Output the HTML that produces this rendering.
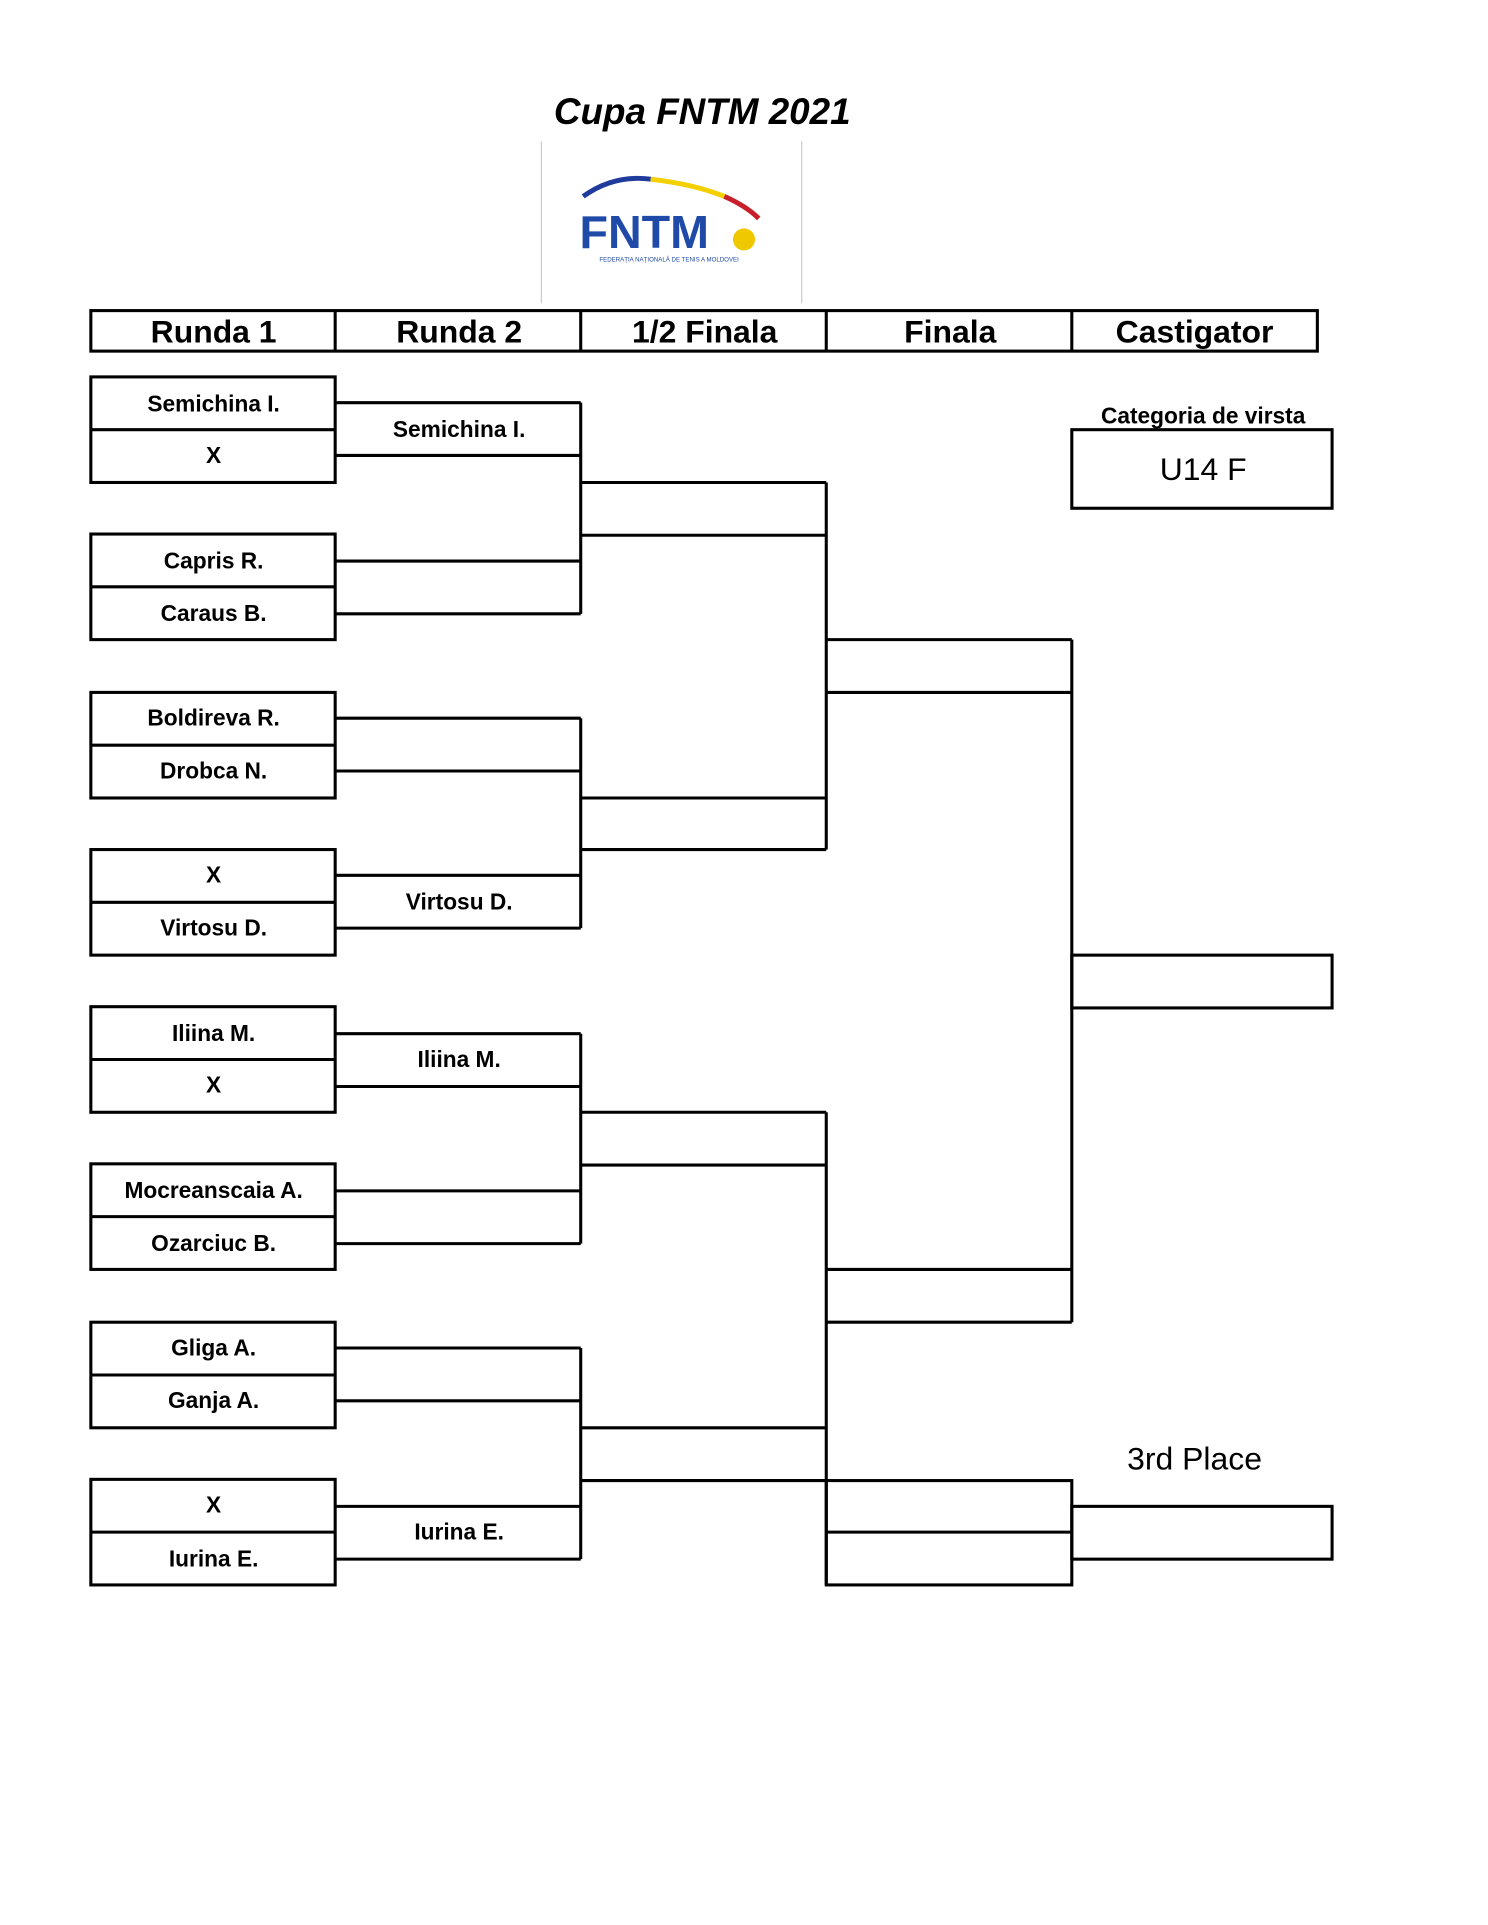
<!DOCTYPE html>
<html><head><meta charset="utf-8"><style>html,body{margin:0;padding:0;background:#fff}svg{display:block}</style></head>
<body>
<svg width="1488" height="1925" viewBox="0 0 1212 1568" preserveAspectRatio="none" xmlns="http://www.w3.org/2000/svg" font-family="Liberation Sans, Arial, sans-serif">
<rect width="1212" height="1568" fill="#fff"/>
<text x="572" y="101" font-size="30" font-weight="bold" font-style="italic" text-anchor="middle">Cupa FNTM 2021</text>
<line x1="441" y1="115" x2="441" y2="247" stroke="#ccc" stroke-width="1"/>
<line x1="653" y1="115" x2="653" y2="247" stroke="#ccc" stroke-width="1"/>
<path d="M475 160 Q500 142 530 146" stroke="#1f3c9c" stroke-width="4" fill="none"/>
<path d="M530 146 Q565 150 590 160" stroke="#f5d000" stroke-width="4" fill="none"/>
<path d="M590 160 Q608 168 618 178" stroke="#c8202a" stroke-width="4" fill="none"/>
<text x="472" y="202" font-size="38" font-weight="bold" fill="#1f4aa8">FNTM</text>
<circle cx="606" cy="195" r="9" fill="#f0c800"/>
<text x="545" y="213" font-size="5" fill="#1f4aa8" text-anchor="middle">FEDERAȚIA NAȚIONALĂ DE TENIS A MOLDOVEI</text>
<g fill="none" stroke="#000" stroke-width="2.5">
<rect x="74" y="253" width="999" height="33"/>
<line x1="273" y1="253" x2="273" y2="286"/><line x1="473" y1="253" x2="473" y2="286"/><line x1="673" y1="253" x2="673" y2="286"/><line x1="873" y1="253" x2="873" y2="286"/>
<rect x="74" y="307" width="199" height="86"/><line x1="74" y1="350" x2="273" y2="350"/>
<rect x="74" y="435" width="199" height="86"/><line x1="74" y1="478" x2="273" y2="478"/>
<rect x="74" y="564" width="199" height="86"/><line x1="74" y1="607" x2="273" y2="607"/>
<rect x="74" y="692" width="199" height="86"/><line x1="74" y1="735" x2="273" y2="735"/>
<rect x="74" y="820" width="199" height="86"/><line x1="74" y1="863" x2="273" y2="863"/>
<rect x="74" y="948" width="199" height="86"/><line x1="74" y1="991" x2="273" y2="991"/>
<rect x="74" y="1077" width="199" height="86"/><line x1="74" y1="1120" x2="273" y2="1120"/>
<rect x="74" y="1205" width="199" height="86"/><line x1="74" y1="1248" x2="273" y2="1248"/>
<path d="M273 328H473M273 371H473M273 457H473M273 500H473M473 328V500"/>
<path d="M273 585H473M273 628H473M273 713H473M273 756H473M473 585V756"/>
<path d="M273 842H473M273 885H473M273 970H473M273 1013H473M473 842V1013"/>
<path d="M273 1098H473M273 1141H473M273 1227H473M273 1270H473M473 1098V1270"/>
<path d="M473 393H673M473 436H673M473 650H673M473 692H673M673 393V692"/>
<path d="M473 906H673M473 949H673M473 1163H673M473 1206H673M673 906V1291"/>
<path d="M673 521H873M673 564H873M673 1034H873M673 1077H873M873 521V1077"/>
<rect x="873" y="778" width="212" height="43"/>
<rect x="673" y="1206" width="200" height="85"/><line x1="673" y1="1248" x2="873" y2="1248"/>
<rect x="873" y="1227" width="212" height="43"/>
<rect x="873" y="350" width="212" height="64"/>
</g>
<g font-size="26" font-weight="bold" text-anchor="middle">
<text x="174" y="279">Runda 1</text><text x="374" y="279">Runda 2</text><text x="574" y="279">1/2 Finala</text><text x="774" y="279">Finala</text><text x="973" y="279">Castigator</text>
</g>
<g font-size="18.5" font-weight="bold" text-anchor="middle">
<text x="174" y="335">Semichina I.</text><text x="174" y="377">X</text>
<text x="174" y="463">Capris R.</text><text x="174" y="506">Caraus B.</text>
<text x="174" y="591">Boldireva R.</text><text x="174" y="634">Drobca N.</text>
<text x="174" y="719">X</text><text x="174" y="762">Virtosu D.</text>
<text x="174" y="848">Iliina M.</text><text x="174" y="890">X</text>
<text x="174" y="976">Mocreanscaia A.</text><text x="174" y="1019">Ozarciuc B.</text>
<text x="174" y="1104">Gliga A.</text><text x="174" y="1147">Ganja A.</text>
<text x="174" y="1232">X</text><text x="174" y="1276">Iurina E.</text>
<text x="374" y="356">Semichina I.</text><text x="374" y="741">Virtosu D.</text>
<text x="374" y="869">Iliina M.</text><text x="374" y="1254">Iurina E.</text>
<text x="980" y="345">Categoria de virsta</text>
</g>
<text x="980" y="391" font-size="26" text-anchor="middle">U14 F</text>
<text x="973" y="1197" font-size="26" text-anchor="middle">3rd Place</text>
</svg>
</body></html>
